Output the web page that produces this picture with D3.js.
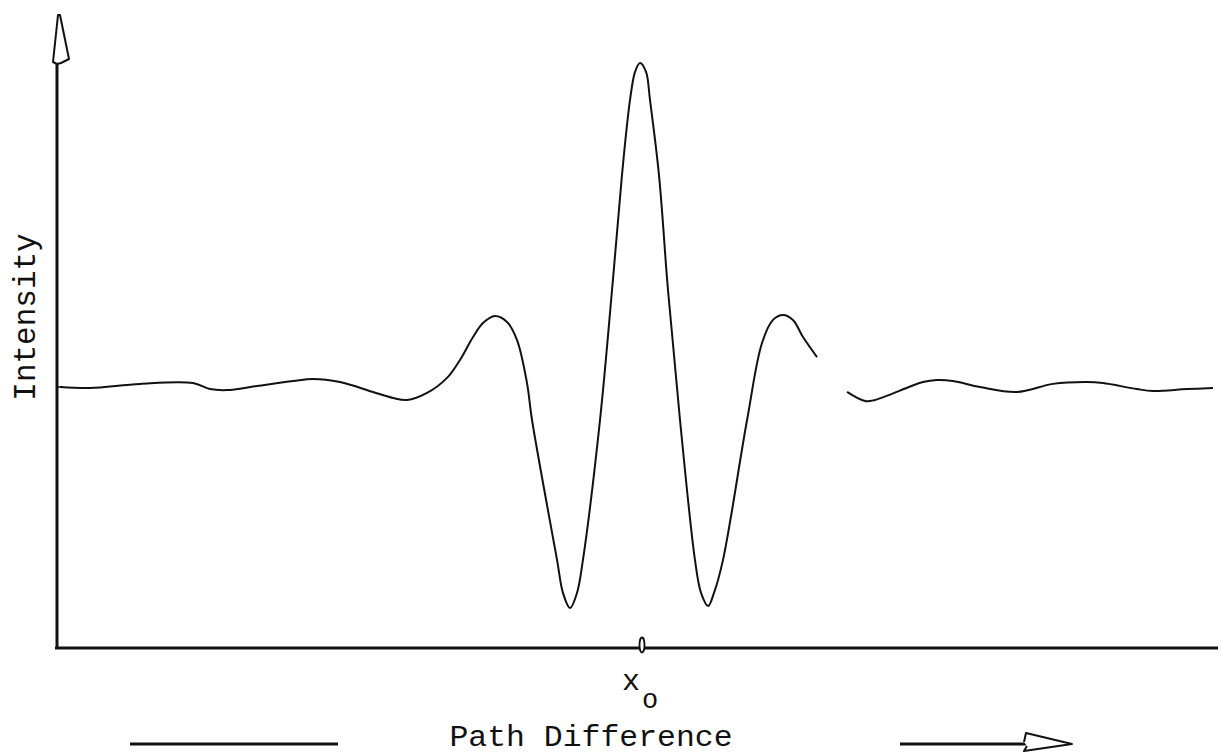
<!DOCTYPE html>
<html>
<head>
<meta charset="utf-8">
<script src="https://cdn.jsdelivr.net/npm/d3@7"></script>
<style>
  body { margin: 0; background: #fff; }
  svg { display: block; }
</style>
</head>
<body>
<svg id="chart"></svg>
<script>
const width = 1221;
const height = 755;

// path difference relative to x0
const pathDiff = [
  -49.74, -47.17, -42.89, -38.36, -36.90, -35.45, -32.88, -29.79, -28.08, -25.77,
  -22.95, -21.23, -20.03, -18.32, -16.61, -15.50, -14.38, -13.53, -12.50, -11.47,
  -10.62, -9.76, -9.33, -7.19, -6.68, -6.08, -5.48, -4.97, -3.51, -2.48,
  -1.63, -0.94, -0.51, -0.09, 0.43, 0.77, 1.54, 2.31, 3.34, 4.62,
  5.14, 5.74, 6.25, 7.02, 9.08, 10.36, 11.30, 12.16, 13.01, 13.87,
  15.07, 16.4, 17.64, 19.18, 20.03, 24.14, 25.34, 26.71, 29.02, 32.19,
  35.27, 38.18, 39.55, 42.47, 43.84, 46.75, 48.97
];
// intensity (1 = mean level); null marks the break in the trace
const intensity = [
  1.000, 0.996, 1.012, 1.015, 0.992, 0.988, 1.004, 1.023, 1.031, 1.019,
  0.981, 0.958, 0.950, 0.977, 1.035, 1.104, 1.192, 1.246, 1.273, 1.250,
  1.181, 1.015, 0.873, 0.335, 0.208, 0.150, 0.208, 0.335, 0.873, 1.373,
  1.815, 2.104, 2.212, 2.246, 2.212, 2.104, 1.815, 1.373, 0.873, 0.335,
  0.208, 0.158, 0.208, 0.335, 0.873, 1.169, 1.258, 1.277, 1.258, 1.192,
  1.115, null, 0.981, 0.946, 0.950, 1.019, 1.027, 1.023, 1.000, 0.981,
  1.012, 1.019, 1.015, 0.992, 0.985, 0.992, 0.996
];

const xLabel = "Path Difference";
const yLabel = "Intensity";
const tickLabel = "x";
const tickSub = "o";

const svg = d3.select("svg#chart")
  .attr("width", width)
  .attr("height", height);

const x = d3.scaleLinear().domain([-50, 50]).range([57, 1225]);
const y = d3.scaleLinear().domain([0, 2.5]).range([647, -3]);

const data = pathDiff.map((d, i) => ({ x: d, y: intensity[i] }));

const ink = "#111";
const mono = "'Liberation Mono', 'DejaVu Sans Mono', monospace";

drawAxes();
drawCurve();
drawLabels();

function drawAxes() {
  let g = svg.append("g").attr("id", "axes");
  let x0 = x.range()[0];
  let y0 = y(0);

  // vertical axis with hollow arrow head
  g.append("line")
    .attr("x1", x0).attr("y1", y0 + 1)
    .attr("x2", x0).attr("y2", 62)
    .attr("stroke", ink)
    .attr("stroke-width", 3);
  g.append("path")
    .attr("d", `M${x0},64 L${x0 - 4},62 L${x0 + 1},15 L${x0 + 3},15 L${x0 + 12},59 L${x0 + 4},63 Z`)
    .attr("fill", "#fff")
    .attr("stroke", ink)
    .attr("stroke-width", 2)
    .attr("stroke-linejoin", "round");

  // horizontal axis
  g.append("line")
    .attr("x1", x0 - 2).attr("y1", y0 + 1)
    .attr("x2", 1218).attr("y2", y0 + 1)
    .attr("stroke", ink)
    .attr("stroke-width", 3);

  // small loop marking x0
  g.append("ellipse")
    .attr("cx", x(0) + 1)
    .attr("cy", y0 - 2)
    .attr("rx", 2.5)
    .attr("ry", 7.5)
    .attr("fill", "#fff")
    .attr("stroke", ink)
    .attr("stroke-width", 1.8);

  // short start tick of the trace at the axis
  g.append("line")
    .attr("x1", x0).attr("y1", y(1))
    .attr("x2", x0 + 6).attr("y2", y(1))
    .attr("stroke", ink)
    .attr("stroke-width", 1.5);
}

function drawCurve() {
  let line = d3.line()
    .defined(d => d.y !== null)
    .x(d => x(d.x))
    .y(d => y(d.y))
    .curve(d3.curveCatmullRom.alpha(0.5));

  svg.append("path")
    .datum(data)
    .attr("d", line)
    .attr("fill", "none")
    .attr("stroke", ink)
    .attr("stroke-width", 2)
    .attr("stroke-linejoin", "round");
}

function drawLabels() {
  let g = svg.append("g")
    .attr("font-family", mono)
    .attr("fill", ink);

  g.append("text")
    .attr("transform", "translate(35,317) rotate(-90)")
    .attr("text-anchor", "middle")
    .attr("font-size", 31)
    .text(yLabel);

  g.append("text")
    .attr("x", x(0) - 19)
    .attr("y", 690)
    .attr("font-size", 30)
    .text(tickLabel);
  g.append("text")
    .attr("x", x(0) + 1)
    .attr("y", 708)
    .attr("font-size", 27)
    .text(tickSub);

  g.append("text")
    .attr("x", 591)
    .attr("y", 746)
    .attr("text-anchor", "middle")
    .attr("font-size", 29)
    .attr("textLength", 283)
    .attr("lengthAdjust", "spacingAndGlyphs")
    .text(xLabel);

  // arrow shafts either side of the title
  g.append("line")
    .attr("x1", 130).attr("y1", 744)
    .attr("x2", 338).attr("y2", 744)
    .attr("stroke", ink)
    .attr("stroke-width", 3);
  g.append("line")
    .attr("x1", 900).attr("y1", 744)
    .attr("x2", 1026).attr("y2", 744)
    .attr("stroke", ink)
    .attr("stroke-width", 3);
  g.append("path")
    .attr("d", "M1024,742 L1026,733 L1072,744 L1024,751 L1027,746")
    .attr("fill", "#fff")
    .attr("stroke", ink)
    .attr("stroke-width", 2)
    .attr("stroke-linejoin", "round");
}
</script>
</body>
</html>
